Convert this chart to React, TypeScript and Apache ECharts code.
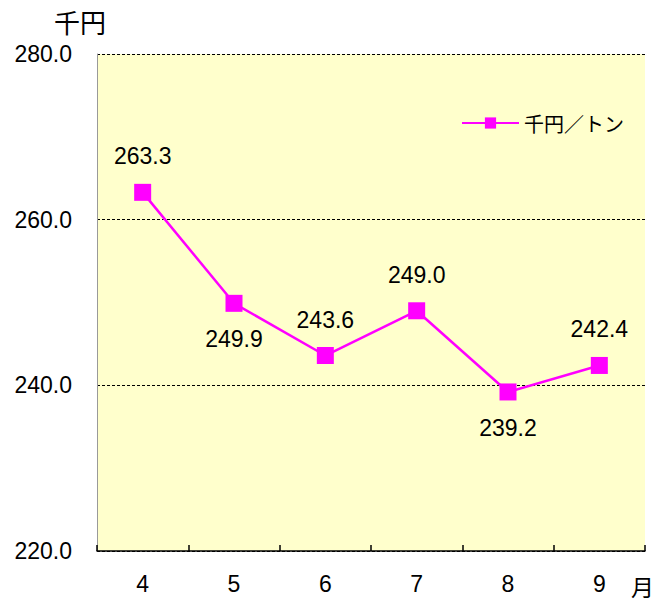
import React, { useEffect, useRef } from "react";
import * as echarts from "echarts";

const months = ["4", "5", "6", "7", "8", "9"];
const prices = [263.3, 249.9, 243.6, 249.0, 239.2, 242.4];
const labelPos = ["top", "bottom", "top", "top", "bottom", "top"];
const seriesName = "千円／トン";

const FONT = "'Liberation Sans', 'Noto Sans CJK JP', sans-serif";
const CJK = "'Noto Sans CJK JP', sans-serif";

export default function App() {
  const ref = useRef<HTMLDivElement>(null);
  useEffect(() => {
    const chart = echarts.init(ref.current!, null, { renderer: "svg" });
    chart.setOption({
      animation: false,
      textStyle: { fontFamily: FONT },
      grid: { left: 97, top: 54, right: 12, bottom: 52, backgroundColor: "#FFFFCC", show: true, borderWidth: 0 },
      legend: {
        data: [seriesName],
        right: 28,
        top: 108,
        itemWidth: 57,
        itemHeight: 14,
        itemGap: 4,
        textStyle: { fontSize: 20, color: "#000", fontFamily: CJK },
      },
      xAxis: {
        type: "category",
        data: months,
        boundaryGap: true,
        axisLine: { lineStyle: { color: "#000", width: 1.5 } },
        axisTick: { show: true, inside: true, length: 6, lineStyle: { color: "#000", width: 1.5 } },
        axisLabel: { fontSize: 23, color: "#000", margin: 21 },
      },
      yAxis: {
        type: "value",
        min: 220,
        max: 280,
        interval: 20,
        axisLine: { show: true, lineStyle: { color: "#999", width: 1 } },
        axisTick: { show: false },
        splitLine: { lineStyle: { color: "#000", type: [3, 2], width: 1 } },
        axisLabel: { fontSize: 23, color: "#000", margin: 25, formatter: (v: number) => v.toFixed(1) },
      },
      graphic: [
        { type: "text", x: 54, y: 8, style: { text: "千円", fontSize: 26, fill: "#000", fontFamily: CJK, verticalAlign: "top" } },
        { type: "text", x: 631, y: 574, style: { text: "月", fontSize: 23, fill: "#000", fontFamily: CJK, verticalAlign: "top" } },
      ],
      series: [
        {
          name: seriesName,
          type: "line",
          data: prices.map((v, i) => ({ value: v, label: { position: labelPos[i] } })),
          symbol: "rect",
          symbolSize: 17,
          itemStyle: { color: "#FF00FF" },
          lineStyle: { color: "#FF00FF", width: 2.5 },
          label: {
            show: true,
            fontSize: 23,
            color: "#000",
            distance: 16,
            formatter: (p: any) => p.value.toFixed(1),
          },
        },
      ],
    });
    return () => chart.dispose();
  }, []);
  return <div ref={ref} style={{ position: "absolute", left: 0, top: 0, width: 657, height: 603 }} />;
}
